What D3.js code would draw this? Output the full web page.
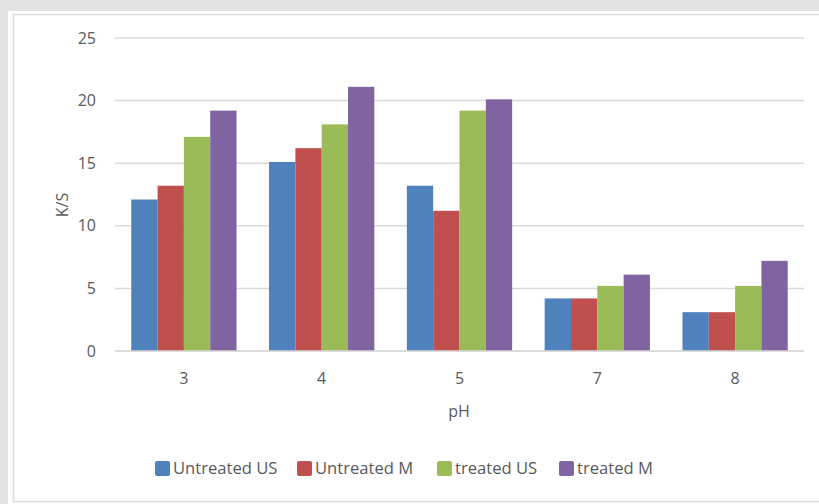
<!DOCTYPE html>
<html>
<head>
<meta charset="utf-8">
<script src="https://cdn.jsdelivr.net/npm/d3@7/dist/d3.min.js"></script>
<style>
  html, body { margin: 0; padding: 0; background: #e3e3e3; }
  svg { display: block; font-family: "Open Sans", "Noto Sans", sans-serif; }
</style>
</head>
<body>
<svg id="chart" width="819" height="504"></svg>
<script>
// K/S values per pH level for each treatment
const categories = ["3", "4", "5", "7", "8"];
const seriesNames = ["Untreated US", "Untreated M", "treated US", "treated M"];
const untreatedUS = [12.1, 15.1, 13.2, 4.2, 3.1];
const untreatedM  = [13.2, 16.2, 11.2, 4.2, 3.1];
const treatedUS   = [17.1, 18.1, 19.2, 5.2, 5.2];
const treatedM    = [19.2, 21.1, 20.1, 6.1, 7.2];
const yTicks = [0, 5, 10, 15, 20, 25];
const colors = ["#4f81bd", "#c0504d", "#9bbb59", "#8064a2"];

const seriesValues = [untreatedUS, untreatedM, treatedUS, treatedM];

const svg = d3.select("#chart");

// card background
svg.append("rect").attr("x", 8).attr("y", 11).attr("width", 830).attr("height", 500).attr("fill", "#ffffff");
svg.append("rect").attr("x", 13.5).attr("y", 14.5).attr("width", 830).attr("height", 487)
  .attr("fill", "#ffffff").attr("stroke", "#dcdcdc").attr("stroke-width", 1.5);

const plot = { left: 115, right: 804, top: 38, bottom: 351 };

const x0 = d3.scaleBand().domain(categories).range([plot.left, plot.right]).paddingInner(0.236).paddingOuter(0.118);
const x1 = d3.scaleBand().domain(seriesNames).range([0, x0.bandwidth()]);
const y = d3.scaleLinear().domain([0, 25]).range([plot.bottom, plot.top]);

// horizontal gridlines
svg.append("g").selectAll("line").data(yTicks).join("line")
  .attr("x1", plot.left).attr("x2", plot.right)
  .attr("y1", d => y(d)).attr("y2", d => y(d))
  .attr("stroke", "#d9d9d9").attr("stroke-width", 1.5);

// y axis labels
const yAxis = d3.axisLeft(y).tickValues(yTicks).tickSize(0).tickPadding(19);
const gy = svg.append("g").attr("transform", `translate(${plot.left},0)`).call(yAxis);
gy.select(".domain").remove();
gy.selectAll("text").attr("fill", "#595959").style("font-size", "16px").style("font-family", "'Open Sans', sans-serif");

// bars
const groups = svg.append("g").selectAll("g").data(categories).join("g")
  .attr("transform", d => `translate(${x0(d)},0)`);
groups.selectAll("rect").data((c, i) => seriesNames.map((s, k) => ({ s, k, v: seriesValues[k][i] })))
  .join("rect")
  .attr("x", d => x1(d.s))
  .attr("width", x1.bandwidth())
  .attr("y", d => y(d.v))
  .attr("height", d => y(0) - y(d.v))
  .attr("fill", d => colors[d.k]);

// baseline
svg.append("line").attr("x1", plot.left).attr("x2", plot.right)
  .attr("y1", y(0)).attr("y2", y(0)).attr("stroke", "#d9d9d9").attr("stroke-width", 1.5);

// x axis labels
const xAxis = d3.axisBottom(x0).tickSize(0).tickPadding(22);
const gx = svg.append("g").attr("transform", `translate(0,${plot.bottom})`).call(xAxis);
gx.select(".domain").remove();
gx.selectAll("text").attr("fill", "#595959").style("font-size", "16px").style("font-family", "'Open Sans', sans-serif");

// axis titles
svg.append("text").attr("transform", "translate(68,205) rotate(-90)")
  .attr("text-anchor", "middle").attr("fill", "#595959").style("font-size", "16px").text("K/S");
svg.append("text").attr("x", 459).attr("y", 417)
  .attr("text-anchor", "middle").attr("fill", "#595959").style("font-size", "16px").text("pH");

// legend
const legendX = [155, 297, 437, 559];
const legend = svg.append("g").selectAll("g").data(seriesNames).join("g")
  .attr("transform", (d, i) => `translate(${legendX[i]},461)`);
legend.append("rect").attr("width", 15).attr("height", 15).attr("rx", 2).attr("fill", (d, i) => colors[i]);
legend.append("text").attr("x", 18).attr("y", 13).attr("fill", "#595959").style("font-size", "16.6px").text(d => d);
</script>
</body>
</html>
